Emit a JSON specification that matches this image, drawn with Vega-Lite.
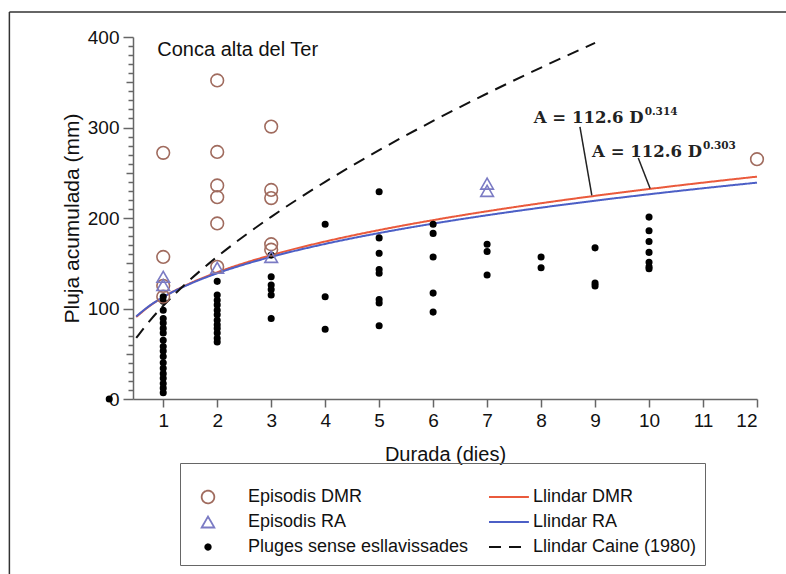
{
  "$schema": "https://vega.github.io/schema/vega-lite/v6.json",
  "width": 624,
  "height": 362,
  "autosize": {"type": "none"},
  "padding": {"left": 133, "top": 37, "right": 29, "bottom": 175},
  "background": "white",
  "config": {
    "view": {"stroke": null},
    "font": "Liberation Sans",
    "axis": {"labelFont": "Liberation Sans", "titleFont": "Liberation Sans", "labelColor": "#111", "titleColor": "#111", "domainColor": "#666", "tickColor": "#666", "domainWidth": 1.5, "tickWidth": 1.5, "grid": false, "titleFontWeight": "normal", "labelOverlap": false},
    "legend": {"labelFont": "Liberation Sans", "labelFontSize": 18, "labelColor": "#111", "labelLimit": 0, "padding": 8, "strokeColor": "#666", "symbolStrokeWidth": 1.8, "labelOffset": 20, "columnPadding": 4, "rowPadding": 5, "clipHeight": 20, "titleFontSize": 12, "titlePadding": 4}
  },
  "resolve": {"axis": {"y": "independent"}},
  "datasets": {
    "points": [
      {"D": 0, "A": 0, "series": "Pluges sense esllavissades"},
      {"D": 1, "A": 113, "series": "Pluges sense esllavissades"},
      {"D": 1, "A": 108, "series": "Pluges sense esllavissades"},
      {"D": 1, "A": 98, "series": "Pluges sense esllavissades"},
      {"D": 1, "A": 89, "series": "Pluges sense esllavissades"},
      {"D": 1, "A": 84, "series": "Pluges sense esllavissades"},
      {"D": 1, "A": 78, "series": "Pluges sense esllavissades"},
      {"D": 1, "A": 73, "series": "Pluges sense esllavissades"},
      {"D": 1, "A": 65, "series": "Pluges sense esllavissades"},
      {"D": 1, "A": 58, "series": "Pluges sense esllavissades"},
      {"D": 1, "A": 53, "series": "Pluges sense esllavissades"},
      {"D": 1, "A": 47, "series": "Pluges sense esllavissades"},
      {"D": 1, "A": 40, "series": "Pluges sense esllavissades"},
      {"D": 1, "A": 34, "series": "Pluges sense esllavissades"},
      {"D": 1, "A": 28, "series": "Pluges sense esllavissades"},
      {"D": 1, "A": 23, "series": "Pluges sense esllavissades"},
      {"D": 1, "A": 17, "series": "Pluges sense esllavissades"},
      {"D": 1, "A": 12, "series": "Pluges sense esllavissades"},
      {"D": 1, "A": 7, "series": "Pluges sense esllavissades"},
      {"D": 2, "A": 130, "series": "Pluges sense esllavissades"},
      {"D": 2, "A": 115, "series": "Pluges sense esllavissades"},
      {"D": 2, "A": 109, "series": "Pluges sense esllavissades"},
      {"D": 2, "A": 104, "series": "Pluges sense esllavissades"},
      {"D": 2, "A": 98, "series": "Pluges sense esllavissades"},
      {"D": 2, "A": 93, "series": "Pluges sense esllavissades"},
      {"D": 2, "A": 87, "series": "Pluges sense esllavissades"},
      {"D": 2, "A": 82, "series": "Pluges sense esllavissades"},
      {"D": 2, "A": 78, "series": "Pluges sense esllavissades"},
      {"D": 2, "A": 73, "series": "Pluges sense esllavissades"},
      {"D": 2, "A": 67, "series": "Pluges sense esllavissades"},
      {"D": 2, "A": 63, "series": "Pluges sense esllavissades"},
      {"D": 3, "A": 159, "series": "Pluges sense esllavissades"},
      {"D": 3, "A": 135, "series": "Pluges sense esllavissades"},
      {"D": 3, "A": 126, "series": "Pluges sense esllavissades"},
      {"D": 3, "A": 121, "series": "Pluges sense esllavissades"},
      {"D": 3, "A": 115, "series": "Pluges sense esllavissades"},
      {"D": 3, "A": 89, "series": "Pluges sense esllavissades"},
      {"D": 4, "A": 193, "series": "Pluges sense esllavissades"},
      {"D": 4, "A": 113, "series": "Pluges sense esllavissades"},
      {"D": 4, "A": 77, "series": "Pluges sense esllavissades"},
      {"D": 5, "A": 229, "series": "Pluges sense esllavissades"},
      {"D": 5, "A": 178, "series": "Pluges sense esllavissades"},
      {"D": 5, "A": 161, "series": "Pluges sense esllavissades"},
      {"D": 5, "A": 143, "series": "Pluges sense esllavissades"},
      {"D": 5, "A": 139, "series": "Pluges sense esllavissades"},
      {"D": 5, "A": 110, "series": "Pluges sense esllavissades"},
      {"D": 5, "A": 106, "series": "Pluges sense esllavissades"},
      {"D": 5, "A": 81, "series": "Pluges sense esllavissades"},
      {"D": 6, "A": 193, "series": "Pluges sense esllavissades"},
      {"D": 6, "A": 183, "series": "Pluges sense esllavissades"},
      {"D": 6, "A": 157, "series": "Pluges sense esllavissades"},
      {"D": 6, "A": 117, "series": "Pluges sense esllavissades"},
      {"D": 6, "A": 96, "series": "Pluges sense esllavissades"},
      {"D": 7, "A": 171, "series": "Pluges sense esllavissades"},
      {"D": 7, "A": 163, "series": "Pluges sense esllavissades"},
      {"D": 7, "A": 137, "series": "Pluges sense esllavissades"},
      {"D": 8, "A": 157, "series": "Pluges sense esllavissades"},
      {"D": 8, "A": 145, "series": "Pluges sense esllavissades"},
      {"D": 9, "A": 167, "series": "Pluges sense esllavissades"},
      {"D": 9, "A": 128, "series": "Pluges sense esllavissades"},
      {"D": 9, "A": 125, "series": "Pluges sense esllavissades"},
      {"D": 10, "A": 201, "series": "Pluges sense esllavissades"},
      {"D": 10, "A": 186, "series": "Pluges sense esllavissades"},
      {"D": 10, "A": 174, "series": "Pluges sense esllavissades"},
      {"D": 10, "A": 162, "series": "Pluges sense esllavissades"},
      {"D": 10, "A": 151, "series": "Pluges sense esllavissades"},
      {"D": 10, "A": 146, "series": "Pluges sense esllavissades"},
      {"D": 10, "A": 144, "series": "Pluges sense esllavissades"},
      {"D": 1, "A": 272, "series": "Episodis DMR"},
      {"D": 1, "A": 157, "series": "Episodis DMR"},
      {"D": 1, "A": 125, "series": "Episodis DMR"},
      {"D": 1, "A": 113, "series": "Episodis DMR"},
      {"D": 2, "A": 352, "series": "Episodis DMR"},
      {"D": 2, "A": 273, "series": "Episodis DMR"},
      {"D": 2, "A": 236, "series": "Episodis DMR"},
      {"D": 2, "A": 223, "series": "Episodis DMR"},
      {"D": 2, "A": 194, "series": "Episodis DMR"},
      {"D": 2, "A": 146, "series": "Episodis DMR"},
      {"D": 3, "A": 301, "series": "Episodis DMR"},
      {"D": 3, "A": 231, "series": "Episodis DMR"},
      {"D": 3, "A": 222, "series": "Episodis DMR"},
      {"D": 3, "A": 171, "series": "Episodis DMR"},
      {"D": 3, "A": 165, "series": "Episodis DMR"},
      {"D": 12, "A": 265, "series": "Episodis DMR"},
      {"D": 1, "A": 135, "series": "Episodis RA"},
      {"D": 1, "A": 126, "series": "Episodis RA"},
      {"D": 2, "A": 145, "series": "Episodis RA"},
      {"D": 3, "A": 157, "series": "Episodis RA"},
      {"D": 7, "A": 238, "series": "Episodis RA"},
      {"D": 7, "A": 230, "series": "Episodis RA"}
    ],
    "curves": [
      {"D": 0.5, "A": 90.58, "series": "Llindar DMR"},
      {"D": 0.75, "A": 102.88, "series": "Llindar DMR"},
      {"D": 1, "A": 112.6, "series": "Llindar DMR"},
      {"D": 1.5, "A": 127.89, "series": "Llindar DMR"},
      {"D": 2, "A": 139.98, "series": "Llindar DMR"},
      {"D": 2.5, "A": 150.14, "series": "Llindar DMR"},
      {"D": 3, "A": 158.98, "series": "Llindar DMR"},
      {"D": 4, "A": 174.01, "series": "Llindar DMR"},
      {"D": 5, "A": 186.64, "series": "Llindar DMR"},
      {"D": 6, "A": 197.64, "series": "Llindar DMR"},
      {"D": 7, "A": 207.44, "series": "Llindar DMR"},
      {"D": 8, "A": 216.33, "series": "Llindar DMR"},
      {"D": 9, "A": 224.48, "series": "Llindar DMR"},
      {"D": 10, "A": 232.03, "series": "Llindar DMR"},
      {"D": 11, "A": 239.08, "series": "Llindar DMR"},
      {"D": 12, "A": 245.7, "series": "Llindar DMR"},
      {"D": 0.5, "A": 91.27, "series": "Llindar RA"},
      {"D": 0.75, "A": 103.2, "series": "Llindar RA"},
      {"D": 1, "A": 112.6, "series": "Llindar RA"},
      {"D": 1.5, "A": 127.32, "series": "Llindar RA"},
      {"D": 2, "A": 138.92, "series": "Llindar RA"},
      {"D": 2.5, "A": 148.63, "series": "Llindar RA"},
      {"D": 3, "A": 157.07, "series": "Llindar RA"},
      {"D": 4, "A": 171.38, "series": "Llindar RA"},
      {"D": 5, "A": 183.37, "series": "Llindar RA"},
      {"D": 6, "A": 193.78, "series": "Llindar RA"},
      {"D": 7, "A": 203.05, "series": "Llindar RA"},
      {"D": 8, "A": 211.43, "series": "Llindar RA"},
      {"D": 9, "A": 219.12, "series": "Llindar RA"},
      {"D": 10, "A": 226.22, "series": "Llindar RA"},
      {"D": 11, "A": 232.85, "series": "Llindar RA"},
      {"D": 12, "A": 239.07, "series": "Llindar RA"},
      {"D": 0.5, "A": 67.48, "series": "Llindar Caine (1980)"},
      {"D": 0.75, "A": 86.42, "series": "Llindar Caine (1980)"},
      {"D": 1, "A": 103, "series": "Llindar Caine (1980)"},
      {"D": 1.5, "A": 131.9, "series": "Llindar Caine (1980)"},
      {"D": 2, "A": 157.2, "series": "Llindar Caine (1980)"},
      {"D": 2.5, "A": 180.12, "series": "Llindar Caine (1980)"},
      {"D": 3, "A": 201.32, "series": "Llindar Caine (1980)"},
      {"D": 4, "A": 239.94, "series": "Llindar Caine (1980)"},
      {"D": 5, "A": 274.92, "series": "Llindar Caine (1980)"},
      {"D": 6, "A": 307.26, "series": "Llindar Caine (1980)"},
      {"D": 7, "A": 337.56, "series": "Llindar Caine (1980)"},
      {"D": 8, "A": 366.2, "series": "Llindar Caine (1980)"},
      {"D": 9, "A": 393.47, "series": "Llindar Caine (1980)"}
    ],
    "leaders": [
      {"x1": 8.72, "y1": 300.6, "x2": 8.94, "y2": 225.0},
      {"x1": 9.8, "y1": 266.3, "x2": 10.02, "y2": 232.5}
    ],
    "frame": [
      {"x1": -1.85, "y1": 427.6, "x2": 12.7, "y2": 427.6},
      {"x1": -1.85, "y1": 427.6, "x2": -1.85, "y2": -196}
    ],
    "labels": [
      {"x": 9.9, "y": 310.5, "text": "A = 112.6 D"},
      {"x": 10.98, "y": 273, "text": "A = 112.6 D"}
    ],
    "sups": [
      {"x": 9.9, "y": 317, "text": "0.314"},
      {"x": 10.98, "y": 279.5, "text": "0.303"}
    ],
    "title": [
      {"x": 0.89, "y": 385.6, "text": "Conca alta del Ter"}
    ]
  },
  "layer": [
    {
      "data": {"name": "frame"},
      "mark": {"type": "rule", "color": "#333", "strokeWidth": 1.5, "clip": false},
      "encoding": {
        "x": {"field": "x1", "type": "quantitative", "scale": {"domain": [0.44, 12], "nice": false, "zero": false}, "axis": {"values": [1,2,3,4,5,6,7,8,9,10,11,12], "title": "Durada (dies)", "tickSize": 8, "labelFontSize": 19, "titleFontSize": 20, "labelPadding": 4, "titlePadding": 14}},
        "x2": {"field": "x2"},
        "y": {"field": "y1", "type": "quantitative", "scale": {"domain": [0, 400], "nice": false}, "axis": {"orient": "left", "values": [0, 100, 200, 300, 400], "tickSize": 10, "title": "Pluja acumulada (mm)", "labelFontSize": 19, "titleFontSize": 21, "labelPadding": 4, "titlePadding": 5}},
        "y2": {"field": "y2"}
      }
    },
    {
      "data": {"name": "curves"},
      "mark": {"type": "line", "interpolate": "monotone", "strokeWidth": 2},
      "encoding": {
        "x": {"field": "D", "type": "quantitative"},
        "y": {"field": "A", "type": "quantitative", "axis": {"orient": "left", "values": [10,20,30,40,60,70,80,90,110,120,130,140,160,170,180,190,210,220,230,240,260,270,280,290,310,320,330,340,360,370,380,390], "tickSize": 5, "labels": false, "domain": false, "title": null}},
        "detail": {"field": "series"},
        "stroke": {"field": "series", "type": "nominal", "scale": {"domain": ["Episodis DMR", "Episodis RA", "Pluges sense esllavissades", "Llindar DMR", "Llindar RA", "Llindar Caine (1980)"], "range": ["#a06b5e", "#7b7bc4", "#000000", "#ea5a3c", "#4c5fc6", "#111111"]}, "legend": {"title": " ", "orient": "none", "legendX": 47, "legendY": 426, "columns": 2}},
        "strokeDash": {"field": "series", "type": "nominal", "scale": {"domain": ["Episodis DMR", "Episodis RA", "Pluges sense esllavissades", "Llindar DMR", "Llindar RA", "Llindar Caine (1980)"], "range": [[1, 0], [1, 0], [1, 0], [1, 0], [1, 0], [12, 8]]}, "legend": {"title": " ", "orient": "none", "legendX": 47, "legendY": 426, "columns": 2}}
      }
    },
    {
      "data": {"name": "leaders"},
      "mark": {"type": "rule", "color": "#222", "strokeWidth": 1.5},
      "encoding": {
        "x": {"field": "x1", "type": "quantitative"},
        "x2": {"field": "x2"},
        "y": {"field": "y1", "type": "quantitative", "axis": {"orient": "left", "values": [50, 150, 250, 350], "tickSize": 7, "labels": false, "domain": false, "title": null}},
        "y2": {"field": "y2"}
      }
    },
    {
      "data": {"name": "points"},
      "mark": {"type": "point", "filled": true, "strokeWidth": 1.6, "opacity": 1},
      "encoding": {
        "x": {"field": "D", "type": "quantitative"},
        "y": {"field": "A", "type": "quantitative", "axis": null},
        "stroke": {"field": "series", "type": "nominal", "legend": {"title": " ", "orient": "none", "legendX": 47, "legendY": 426, "columns": 2}},
        "fill": {"field": "series", "type": "nominal", "scale": {"domain": ["Episodis DMR", "Episodis RA", "Pluges sense esllavissades", "Llindar DMR", "Llindar RA", "Llindar Caine (1980)"], "range": ["transparent", "transparent", "#000000", "transparent", "transparent", "transparent"]}, "legend": {"title": " ", "orient": "none", "legendX": 47, "legendY": 426, "columns": 2}},
        "shape": {"field": "series", "type": "nominal", "scale": {"domain": ["Episodis DMR", "Episodis RA", "Pluges sense esllavissades", "Llindar DMR", "Llindar RA", "Llindar Caine (1980)"], "range": ["circle", "triangle-up", "circle", "M-0.21,0H1.89", "M-0.21,0H1.89", "M-0.21,0H1.89"]}, "legend": {"title": " ", "orient": "none", "legendX": 47, "legendY": 426, "columns": 2}},
        "size": {"field": "series", "type": "nominal", "scale": {"type": "ordinal", "domain": ["Episodis DMR", "Episodis RA", "Pluges sense esllavissades", "Llindar DMR", "Llindar RA", "Llindar Caine (1980)"], "range": [160, 160, 30, 1444, 1444, 1444]}, "legend": {"title": " ", "orient": "none", "legendX": 47, "legendY": 426, "columns": 2}}
      }
    },
    {
      "data": {"name": "labels"},
      "mark": {"type": "text", "align": "right", "baseline": "middle", "font": "DejaVu Serif", "fontSize": 16.5, "fontWeight": "bold", "color": "#222"},
      "encoding": {
        "x": {"field": "x", "type": "quantitative"},
        "y": {"field": "y", "type": "quantitative", "axis": null},
        "text": {"field": "text"}
      }
    },
    {
      "data": {"name": "sups"},
      "mark": {"type": "text", "align": "left", "baseline": "middle", "dx": 1, "font": "DejaVu Serif", "fontSize": 10.5, "fontWeight": "bold", "color": "#222"},
      "encoding": {
        "x": {"field": "x", "type": "quantitative"},
        "y": {"field": "y", "type": "quantitative", "axis": null},
        "text": {"field": "text"}
      }
    },
    {
      "data": {"name": "title"},
      "mark": {"type": "text", "align": "left", "baseline": "middle", "font": "Liberation Sans", "fontSize": 20, "color": "#111"},
      "encoding": {
        "x": {"field": "x", "type": "quantitative"},
        "y": {"field": "y", "type": "quantitative", "axis": null},
        "text": {"field": "text"}
      }
    }
  ]
}
